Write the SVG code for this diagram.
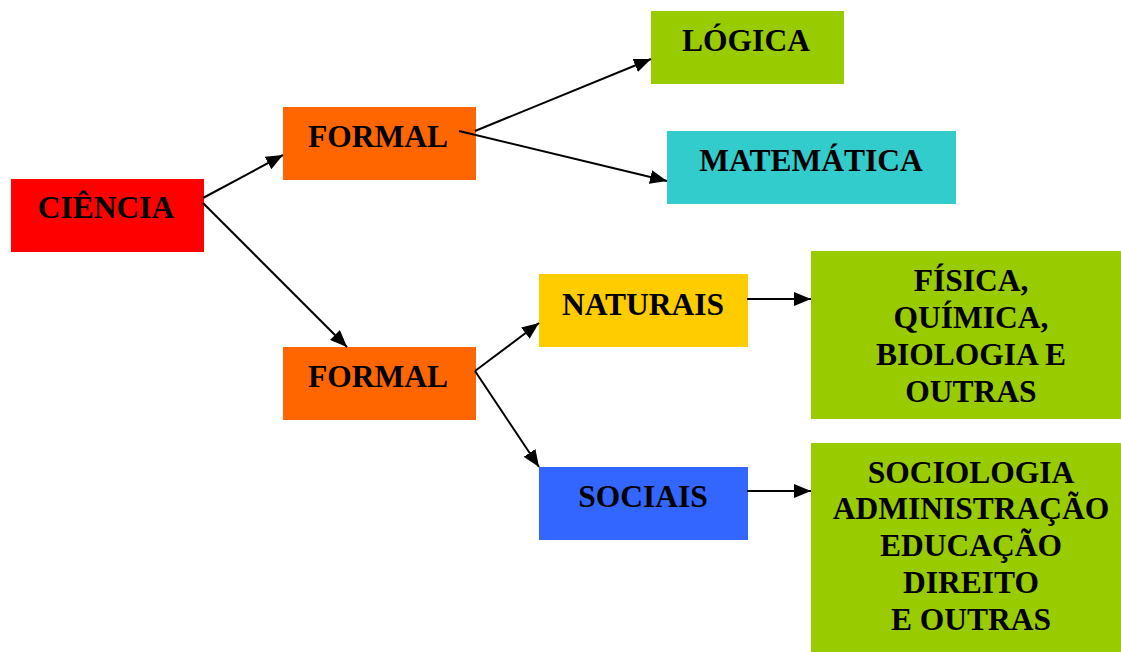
<svg xmlns="http://www.w3.org/2000/svg" width="1121" height="652" viewBox="0 0 1121 652">
<style>
text{font-family:"Liberation Serif","Times New Roman",serif;font-weight:bold;font-size:31.5px;fill:#000;text-anchor:middle}
.e{stroke:#000;stroke-width:2;fill:none;marker-end:url(#ah)}
</style>
<defs>
<marker id="ah" markerUnits="userSpaceOnUse" markerWidth="17" markerHeight="14" refX="17" refY="7" orient="auto" viewBox="0 0 17 14">
<path d="M0,0 L17,7 L0,14 z" fill="#000"/>
</marker>
</defs>
<rect width="1121" height="652" fill="#fff"/>
<g id="n-ciencia"><rect x="11" y="179" width="193" height="73" fill="#FF0000"/><text x="106" y="218">CIÊNCIA</text></g>
<g id="n-formal1"><rect x="283" y="107" width="193" height="73" fill="#FF6600"/><text x="378" y="147">FORMAL</text></g>
<g id="n-formal2"><rect x="283" y="347" width="193" height="73" fill="#FF6600"/><text x="378" y="387">FORMAL</text></g>
<g id="n-logica"><rect x="651" y="11" width="193" height="73" fill="#99CC00"/><text x="746" y="51">LÓGICA</text></g>
<g id="n-matematica"><rect x="667" y="131" width="289" height="73" fill="#33CCCC"/><text x="811" y="171">MATEMÁTICA</text></g>
<g id="n-naturais"><rect x="539" y="274" width="209" height="73" fill="#FFCC00"/><text x="643" y="315">NATURAIS</text></g>
<g id="n-sociais"><rect x="539" y="467" width="209" height="73" fill="#3366FF"/><text x="643" y="507">SOCIAIS</text></g>
<g id="n-fisica"><rect x="811" y="251" width="310" height="168" fill="#99CC00"/>
<text x="971" y="291">FÍSICA,</text><text x="971" y="328">QUÍMICA,</text><text x="971" y="365">BIOLOGIA E</text><text x="971" y="402">OUTRAS</text></g>
<g id="n-sociologia"><rect x="811" y="443" width="310" height="209" fill="#99CC00"/>
<text x="971" y="483">SOCIOLOGIA</text><text x="971" y="519">ADMINISTRAÇÃO</text><text x="971" y="556">EDUCAÇÃO</text><text x="971" y="593">DIREITO</text><text x="971" y="630">E OUTRAS</text></g>
<g id="connectors">
<line class="e" x1="203" y1="198" x2="283" y2="155"/>
<line class="e" x1="203" y1="203" x2="347" y2="347"/>
<line class="e" x1="475" y1="131" x2="651" y2="59"/>
<line class="e" x1="459" y1="131" x2="667" y2="181"/>
<line class="e" x1="475" y1="371" x2="539" y2="323"/>
<line class="e" x1="475" y1="371" x2="539" y2="467"/>
<line class="e" x1="747" y1="299" x2="811" y2="299"/>
<line class="e" x1="747" y1="491" x2="811" y2="491"/>
</g>
</svg>
